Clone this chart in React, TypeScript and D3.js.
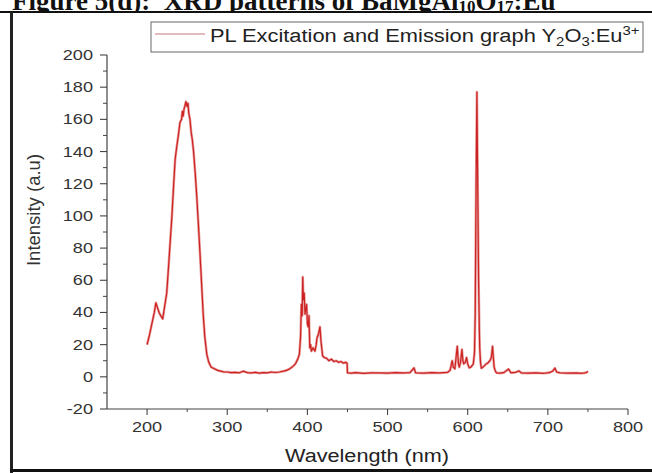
import React from "react";
import * as d3 from "d3";

const wavelength = [
  200, 203, 206, 209, 211, 213, 215, 217, 219.5, 222, 224.5, 227, 229, 231, 233, 235, 237, 239, 241, 243,
  244, 245, 246, 247, 248.5, 250, 251, 252, 253.5, 255, 256.5, 258, 260, 262, 264, 266, 268, 270, 272, 274.5,
  277, 280, 284, 288, 292, 296, 300, 305, 310, 315, 320, 325, 330, 335, 340, 345, 350, 355, 360, 365,
  370, 374, 378, 382, 385, 388, 390, 391.5, 392.5, 393.5, 394.2, 395, 396, 397, 398, 399, 400, 401, 402, 403,
  404, 405, 407, 409.5, 411, 412, 414, 415.7, 417, 419, 421, 424, 427, 430, 433, 436, 439, 442, 445, 448,
  449.5, 450, 455, 460, 470, 480, 490, 500, 510, 520, 528, 533, 535, 545, 555, 565, 575, 578, 580.7, 582,
  584, 587, 588.5, 589.5, 591, 592.8, 594, 595, 597, 598.6, 600, 602, 604, 607, 608.5, 609.4, 610.5, 611.5, 612.5, 613.6,
  614.5, 615, 616, 617, 619, 621, 623, 625, 627.7, 629.5, 631, 632, 633, 634.5, 636, 640, 645, 651, 654, 660,
  664, 667, 675, 685, 695, 702, 706, 708.7, 711, 715, 725, 735, 743, 748, 750,
];
const intensity = [
  20, 26, 33, 40, 46, 43, 40, 38, 36, 44, 52, 70, 85, 100, 118, 135, 143, 150, 158, 160,
  165, 162, 166, 168, 171, 168, 170, 164, 160, 152, 147, 140, 127, 112, 95, 77, 58, 39, 25, 14,
  9, 6, 5, 4, 3.5, 3, 3, 2.6, 2.8, 2.5, 3.5, 2.6, 2.4, 2.8, 2.3, 2.6, 2.5, 3, 2.7, 3,
  3.5, 4, 5, 6.5, 8, 11, 14, 25, 45, 38, 62, 48, 52, 39, 42, 45, 33, 31, 38, 18,
  20, 16, 18, 16, 20, 24, 27, 31, 22, 13, 12, 11.5, 10, 11, 9.5, 10, 9, 9.5, 8.5, 9,
  8.5, 2.5, 2.3, 2.6, 2.2, 2.5, 2.4, 2.3, 2.6, 2.4, 2.6, 5.5, 2.5, 2.3, 2.6, 2.4, 2.8, 4, 10, 6,
  5, 19, 8, 6, 9, 17, 10, 8, 9, 12, 8, 5.6, 6, 8, 15, 39, 120, 177, 120, 60,
  30, 18, 9, 5.4, 6, 7, 8, 8.5, 10, 12, 19, 12, 6, 3.5, 2.5, 2.3, 2.6, 4.8, 2.5, 2.8,
  3.7, 2.4, 2.3, 2.5, 2.2, 2.6, 3.5, 5.4, 3, 2.5, 2.3, 2.4, 2.2, 2.6, 3.5,
];
const xMajorTicks = [200, 300, 400, 500, 600, 700, 800];
const xMinorTicks = [250, 350, 450, 550, 650, 750];
const yMajorTicks = [-20, 0, 20, 40, 60, 80, 100, 120, 140, 160, 180, 200];
const yMinorTicks = [-10, 10, 30, 50, 70, 90, 110, 130, 150, 170, 190];

const SANS = "'Liberation Sans', Arial, sans-serif";

export default function App() {
  const x = d3.scaleLinear().domain([150, 800]).range([107, 628]);
  const y = d3.scaleLinear().domain([-20, 200]).range([409, 55]);
  const pts = wavelength.map((w, i) => [w, intensity[i]] as [number, number]);
  const line = d3
    .line<[number, number]>()
    .x((d) => x(d[0]))
    .y((d) => y(d[1]));
  const path = line(pts) || "";
  const axisColor = "#444";
  const labelColor = "#333";

  return (
    <svg
      width={652}
      height={473}
      style={{ position: "absolute", left: 0, top: 0, background: "#fff" }}
    >
      <rect x={0} y={0} width={652} height={473} fill="#fff" />
      {/* title, cut at top as in the source scan */}
      <text
        x={12}
        y={9.5}
        fontFamily="'Liberation Serif', 'Times New Roman', serif"
        fontWeight="bold"
        fontSize={27}
        fill="#111"
      >
        Figure 5(d):{"\u00a0\u00a0"}XRD patterns of BaMgAl
        <tspan dy={2} fontSize={17}>10</tspan>
        <tspan dy={-2}>O</tspan>
        <tspan dy={2} fontSize={17}>17</tspan>
        <tspan dy={-2}>:Eu</tspan>
      </text>
      {/* frame */}
      <rect x={0} y={11} width={652} height={462} fill="#fff" />
      <line x1={0} x2={652} y1={12} y2={12} stroke="#111" strokeWidth={2} />
      <line x1={11.5} x2={11.5} y1={12} y2={473} stroke="#222" strokeWidth={3} />
      <line x1={10} x2={652} y1={470.5} y2={470.5} stroke="#111" strokeWidth={3} />

      {/* axes */}
      <line x1={x(150)} x2={x(150)} y1={y(200)} y2={y(-20)} stroke={axisColor} strokeWidth={1.2} />
      <line x1={x(150)} x2={x(800)} y1={y(-20)} y2={y(-20)} stroke={axisColor} strokeWidth={1.2} />
      {yMajorTicks.map((t) => (
        <g key={"ym" + t}>
          <line x1={x(150) - 7} x2={x(150)} y1={y(t)} y2={y(t)} stroke={axisColor} strokeWidth={1.1} />
          <text
            transform={`translate(${x(150) - 14},${y(t) + 5}) scale(1.25,1)`}
            textAnchor="end"
            fontFamily={SANS}
            fontSize={14.5}
            fill={labelColor}
          >
            {t}
          </text>
        </g>
      ))}
      {yMinorTicks.map((t) => (
        <line key={"yn" + t} x1={x(150) - 4} x2={x(150)} y1={y(t)} y2={y(t)} stroke={axisColor} strokeWidth={1} />
      ))}
      {xMajorTicks.map((t) => (
        <g key={"xm" + t}>
          <line x1={x(t)} x2={x(t)} y1={y(-20)} y2={y(-20) + 6} stroke={axisColor} strokeWidth={1.1} />
          <text
            transform={`translate(${x(t)},${y(-20) + 23}) scale(1.25,1)`}
            textAnchor="middle"
            fontFamily={SANS}
            fontSize={14.5}
            fill={labelColor}
          >
            {t}
          </text>
        </g>
      ))}
      {xMinorTicks.map((t) => (
        <line key={"xn" + t} x1={x(t)} x2={x(t)} y1={y(-20)} y2={y(-20) + 3} stroke={axisColor} strokeWidth={1} />
      ))}

      {/* axis titles */}
      <text
        transform={`translate(367,462) scale(1.14,1)`}
        textAnchor="middle"
        fontFamily={SANS}
        fontSize={19}
        fill="#222"
      >
        Wavelength (nm)
      </text>
      <text
        transform={`translate(40,210) rotate(-90)`}
        textAnchor="middle"
        fontFamily={SANS}
        fontSize={18.5}
        fill="#333"
      >
        Intensity (a.u)
      </text>

      {/* spectrum */}
      <path d={path} fill="none" stroke="#eaa0a0" strokeWidth={2.6} strokeLinejoin="round" />
      <path d={path} fill="none" stroke="#cc2222" strokeWidth={1.2} strokeLinejoin="round" />

      {/* legend */}
      <rect x={151} y={22} width={492} height={30} fill="#fff" stroke="#666" strokeWidth={1} />
      <line x1={155} x2={205} y1={34} y2={34} stroke="#d9a6a6" strokeWidth={1.5} />
      <text
        transform="translate(210,42) scale(1.15,1)"
        fontFamily={SANS}
        fontSize={19}
        fill="#222"
      >
        PL Excitation and Emission graph Y
        <tspan dy={4} fontSize={13}>2</tspan>
        <tspan dy={-4}>O</tspan>
        <tspan dy={4} fontSize={13}>3</tspan>
        <tspan dy={-4}>:Eu</tspan>
        <tspan dy={-7} fontSize={13}>3+</tspan>
      </text>
    </svg>
  );
}
